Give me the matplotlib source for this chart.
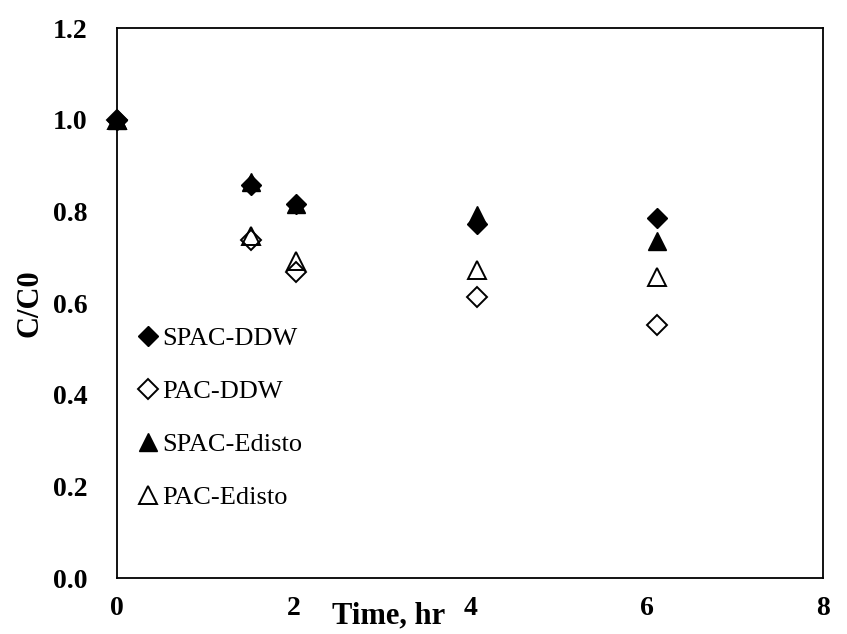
import matplotlib.pyplot as plt

plt.rcParams['font.family'] = ['Liberation Serif', 'DejaVu Serif']

# Data
time = [0, 1.52, 2.03, 4.08, 6.12]
spac_ddw = [1.0, 0.857, 0.815, 0.772, 0.785]
pac_ddw = [1.0, 0.737, 0.668, 0.613, 0.552]
spac_edisto = [1.0, 0.863, 0.816, 0.793, 0.735]
pac_edisto = [1.0, 0.747, 0.691, 0.671, 0.656]

fig = plt.figure(figsize=(8.47, 6.34), dpi=100)
ax = fig.add_axes([0.138, 0.0883, 0.834, 0.8675])

ax.plot(time, spac_ddw, 'D', color='black', markersize=10, linestyle='none',
        clip_on=False, label='SPAC-DDW')
ax.plot(time, pac_ddw, 'D', markerfacecolor='none', markeredgecolor='black', markeredgewidth=1.4,
        markersize=10, linestyle='none', clip_on=False, label='PAC-DDW')
ax.plot(time, spac_edisto, '^', color='black', markersize=13, linestyle='none',
        clip_on=False, label='SPAC-Edisto')
ax.plot(time, pac_edisto, '^', markerfacecolor='none', markeredgecolor='black', markeredgewidth=1.4,
        markersize=13, linestyle='none', clip_on=False, label='PAC-Edisto')

ax.set_xlim(0, 8)
ax.set_ylim(0, 1.2)
ax.set_xticks([0, 2, 4, 6, 8])
ax.set_yticks([0, 0.2, 0.4, 0.6, 0.8, 1.0, 1.2])
ax.set_yticklabels(['%.1f' % v for v in ax.get_yticks()])
ax.tick_params(length=0, labelsize=20)
ax.tick_params(axis='x', pad=13)
ax.tick_params(axis='y', pad=21)
for lab in ax.get_xticklabels() + ax.get_yticklabels():
    lab.set_fontweight('bold')
for sp in ax.spines.values():
    sp.set_linewidth(1.3)

ax.text(0.385, -0.068, 'Time, hr', transform=ax.transAxes, ha='center', va='center',
        fontsize=22, fontweight='bold')
ax.set_ylabel('C/C0', fontsize=22, fontweight='bold', labelpad=6)

ax.legend(loc='upper left', bbox_to_anchor=(-0.007, 0.505), frameon=False, fontsize=19,
          handlelength=0.7, handletextpad=0.2, labelspacing=1.12, borderaxespad=0.6)

fig.savefig('out.png', dpi=100)
